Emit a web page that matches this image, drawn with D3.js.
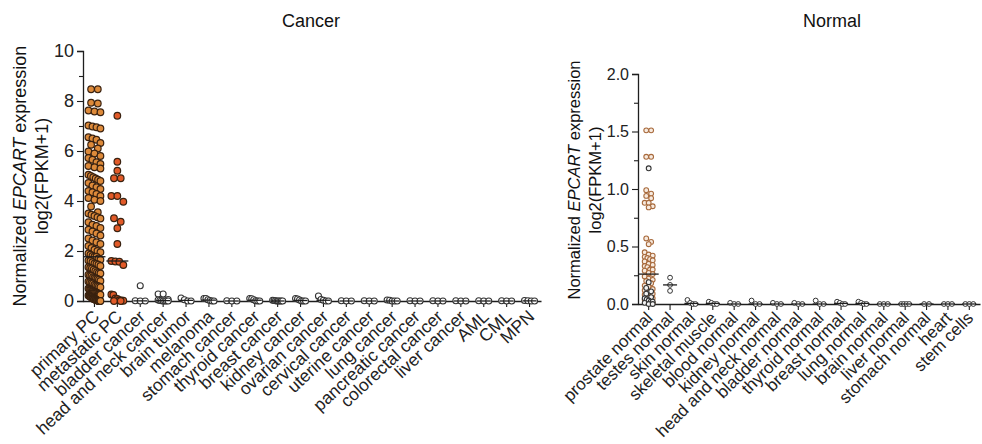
<!DOCTYPE html>
<html>
<head>
<meta charset="utf-8">
<script src="https://cdn.jsdelivr.net/npm/d3@7"></script>
<style>
  html, body { margin: 0; padding: 0; background: #fff; }
  svg { display: block; font-family: "Liberation Sans", Arial, sans-serif; }
</style>
</head>
<body>
<svg id="chart" width="982" height="444"></svg>
<script>
// ---- Cancer panel ----
const cancerCategories = [
  "primary PC", "metastatic PC", "bladder cancer", "head and neck cancer", "brain tumor",
  "melanoma", "stomach cancer", "thyroid cancer", "breast cancer", "kidney cancer",
  "ovarian cancer", "cervical cancer", "uterine cancer", "lung cancer", "pancreatic cancer",
  "colorectal cancer", "liver cancer", "AML", "CML", "MPN"
];
const primaryPC = [
  8.47, 8.47, 7.93, 7.90, 7.62, 7.58, 7.55, 7.02, 6.98, 6.95, 6.90,
  6.55, 6.50, 6.45, 6.32, 6.25, 6.10, 5.98, 5.90, 5.80, 5.72, 5.65,
  5.55, 5.48, 5.40, 5.35, 5.30, 5.05, 5.00, 4.95, 4.90, 4.85, 4.80, 4.72,
  4.62, 4.55, 4.48, 4.40, 4.35, 4.28, 4.20, 4.12, 4.05, 4.00,
  3.78, 3.55, 3.50, 3.45, 3.40, 3.35, 3.30,
  3.15, 3.05, 3.00, 2.92, 2.85, 2.78, 2.70, 2.62,
  2.50, 2.42, 2.35, 2.28, 2.20, 2.12, 2.05, 2.00, 1.95, 1.90, 1.85,
  1.80, 1.77, 1.77, 1.70, 1.65, 1.60, 1.55, 1.50, 1.45, 1.40, 1.35, 1.30, 1.25, 1.20,
  1.15, 1.12, 1.05, 1.00, 0.95, 0.90, 0.85, 0.80, 0.75, 0.70, 0.65, 0.60, 0.55, 0.50, 0.45,
  0.42, 0.40, 0.38, 0.35, 0.32, 0.30, 0.28, 0.25, 0.22, 0.20, 0.18, 0.15, 0.12, 0.10,
  0.08, 0.06, 0.05, 0.04, 0.03, 0.02, 0.01, 0.0, 0.0, 0.0, 0.0,
  1.32, 1.10, 0.92, 0.78, 0.62, 0.48, 0.36, 0.26, 0.16, 0.07,
  1.62, 1.48, 1.02, 0.88, 0.72, 0.58, 0.44, 0.33, 0.21, 0.11
];
const metastaticPC = [
  7.41, 5.57, 5.21, 4.91, 4.91, 4.20, 4.20, 3.97, 3.31, 3.17, 2.91, 2.28,
  1.60, 1.58, 1.57, 1.44, 0.26, 0.24, 0.10, 0.08, 0.03, 0.02, 0.01, 0.0, 0.0
];
const otherCancers = [
  [0.61, 0.01, 0.0, 0.0],
  [0.28, 0.28, 0.06, 0.04, 0.02, 0.01, 0.0, 0.0, 0.0, 0.0],
  [0.12, 0.05, 0.0, 0.0],
  [0.10, 0.10, 0.05, 0.02, 0.0, 0.0],
  [0.01, 0.0, 0.0],
  [0.10, 0.09, 0.05, 0.01, 0.0, 0.0],
  [0.03, 0.02, 0.01, 0.0, 0.0, 0.0, 0.0, 0.0],
  [0.10, 0.08, 0.04, 0.0, 0.0, 0.0],
  [0.20, 0.06, 0.03, 0.0, 0.0],
  [0.01, 0.0, 0.0],
  [0.01, 0.0, 0.0],
  [0.04, 0.03, 0.0, 0.0, 0.0],
  [0.01, 0.0, 0.0],
  [0.01, 0.0, 0.0],
  [0.01, 0.0, 0.0],
  [0.01, 0.0, 0.0],
  [0.01, 0.0, 0.0],
  [0.02, 0.01, 0.0, 0.0]
];
const cancerTicks = [0, 2, 4, 6, 8, 10];

// ---- Normal panel ----
const normalCategories = [
  "prostate normal", "testes normal", "skin normal", "skeletal muscle", "blood normal",
  "kidney normal", "head and neck normal", "bladder normal", "thyroid normal", "breast normal",
  "lung normal", "brain normal", "liver normal", "stomach normal", "heart", "stem cells"
];
const prostateNormal = [
  1.51, 1.51, 1.28, 1.28, 0.99, 0.96, 0.94, 0.92, 0.88, 0.88, 0.85, 0.84,
  0.57, 0.54, 0.52, 0.45, 0.43, 0.42, 0.41, 0.40, 0.39, 0.38, 0.37, 0.35,
  0.34, 0.33, 0.32, 0.30, 0.30, 0.29, 0.27, 0.26, 0.24, 0.22, 0.21, 0.20,
  0.18, 0.16, 0.15, 0.13, 0.12, 0.10, 0.09, 0.08, 0.07, 0.06, 0.05, 0.04,
  0.03, 0.02, 0.01
];
const prostateNormalDark = [1.18, 0.19, 0.14, 0.11, 0.09, 0.06, 0.05, 0.04, 0.03, 0.02, 0.02, 0.01, 0.0, 0.0];
const otherNormals = [
  [0.229, 0.166, 0.114],
  [0.035, 0.01, 0.0, 0.0],
  [0.02, 0.01, 0.0, 0.0],
  [0.01, 0.0, 0.0],
  [0.03, 0.0, 0.0],
  [0.01, 0.0, 0.0],
  [0.01, 0.0, 0.0],
  [0.03, 0.0, 0.0],
  [0.02, 0.01, 0.0, 0.0],
  [0.02, 0.01, 0.0, 0.0],
  [0.0, 0.0, 0.0],
  [0.0, 0.0, 0.0, 0.0],
  [0.0, 0.0],
  [0.0, 0.0, 0.0],
  [0.0, 0.0, 0.0]
];
const normalTicks = [0, 0.5, 1.0, 1.5, 2.0];

const svg = d3.select("#chart");
const ink = "#1e1e1e";

// Row-based scatter layout: points at similar heights are spread side by side.
function spread(values, y, r, maxHalf) {
  const pts = values.map(v => ({ v, py: y(v) })).sort((a, b) => a.py - b.py);
  const rows = [];
  let cur = null;
  for (const p of pts) {
    if (!cur || p.py - cur.start > 2 * r * 0.95) { cur = { start: p.py, items: [] }; rows.push(cur); }
    cur.items.push(p);
  }
  rows.forEach(row => {
    const n = row.items.length;
    const step = n > 1 ? Math.min(2 * r * 1.02, (2 * maxHalf) / (n - 1)) : 0;
    row.items.forEach((p, k) => { p.dx = (k - (n - 1) / 2) * step; });
  });
  return pts;
}

function panel(opts) {
  const g = svg.append("g");
  const x = d3.scaleBand().domain(opts.categories).range([opts.x0, opts.x1]);
  const y = d3.scaleLinear().domain(opts.domain).range([opts.y0, opts.y1]);

  // y axis with labelled major ticks and short minor ticks
  const yAxis = g.append("g").attr("transform", `translate(${opts.x0},0)`)
    .call(d3.axisLeft(y).tickValues(opts.ticks).tickFormat(opts.fmt).tickSize(6).tickPadding(3));
  yAxis.selectAll("text").attr("font-size", opts.tickFont).attr("fill", "#222");
  g.append("g").attr("transform", `translate(${opts.x0},0)`)
    .call(d3.axisLeft(y).tickValues(opts.minor).tickFormat("").tickSize(4))
    .call(s => s.select(".domain").remove());

  // x axis
  g.append("g").attr("transform", `translate(0,${opts.y0})`)
    .call(d3.axisBottom(x).tickSize(6).tickSizeOuter(0).tickFormat(""));
  g.selectAll(".domain").attr("stroke", ink).attr("stroke-width", 1.3);
  g.selectAll(".tick line").attr("stroke", ink).attr("stroke-width", 1.1);

  // rotated category labels
  g.append("g").selectAll("text").data(opts.categories).join("text")
    .attr("transform", d => `translate(${x(d) + x.bandwidth() / 2 + opts.labDx},${opts.y0 + opts.labDy}) rotate(${opts.labAngle})`)
    .attr("text-anchor", "end")
    .attr("font-size", opts.labFont)
    .attr("fill", "#222")
    .text(d => d);

  // points
  opts.groups.forEach(grp => {
    const cx = x(grp.cat) + x.bandwidth() / 2;
    const pts = spread(grp.values, y, grp.r, grp.maxHalf);
    g.append("g").selectAll("circle").data(pts).join("circle")
      .attr("cx", d => cx + d.dx)
      .attr("cy", d => d.py)
      .attr("r", grp.r)
      .attr("fill", grp.fill)
      .attr("stroke", grp.stroke)
      .attr("stroke-width", grp.sw);
  });

  // median lines
  opts.medians.forEach(m => {
    const cx = x(m.cat) + x.bandwidth() / 2;
    const my = y(d3.median(m.values));
    g.append("line")
      .attr("x1", cx - m.half).attr("x2", cx + m.half)
      .attr("y1", my).attr("y2", my)
      .attr("stroke", ink).attr("stroke-width", 1.3);
  });

  // title
  g.append("text").attr("x", opts.titleX).attr("y", opts.titleY)
    .attr("text-anchor", "middle").attr("font-size", 18).attr("fill", "#111").text(opts.title);

  // y axis title
  const yt = g.append("text")
    .attr("transform", `translate(${opts.ytX},${opts.ytY}) rotate(-90)`)
    .attr("text-anchor", "middle").attr("font-size", opts.ytFont).attr("fill", "#111");
  yt.append("tspan").text("Normalized ");
  yt.append("tspan").attr("font-style", "italic").text("EPCART");
  yt.append("tspan").text(" expression");
  g.append("text")
    .attr("transform", `translate(${opts.ytX + opts.ytGap},${opts.ytY}) rotate(-90)`)
    .attr("text-anchor", "middle").attr("font-size", opts.ytFont).attr("fill", "#111")
    .text("log2(FPKM+1)");
}

// Cancer panel
const cancerGroups = [
  { cat: cancerCategories[0], values: primaryPC, r: 3.3, maxHalf: 6, fill: "#dd8a3a", stroke: "#3a2210", sw: 1.2 },
  { cat: cancerCategories[1], values: metastaticPC, r: 3.3, maxHalf: 6, fill: "#e25a28", stroke: "#3a2210", sw: 1.2 }
];
otherCancers.forEach((vals, i) => cancerGroups.push(
  { cat: cancerCategories[i + 2], values: vals, r: 3.0, maxHalf: 5, fill: "#fff", stroke: "#333", sw: 1.1 }));
panel({
  categories: cancerCategories, x0: 83, x1: 541, y0: 301, y1: 51, domain: [0, 10],
  ticks: cancerTicks, minor: [1, 3, 5, 7, 9], fmt: d3.format("d"), tickFont: 18,
  labFont: 17.5, labAngle: -43, labDx: 6, labDy: 17,
  groups: cancerGroups,
  medians: [
    { cat: cancerCategories[0], values: primaryPC, half: 11 },
    { cat: cancerCategories[1], values: metastaticPC, half: 11 }
  ].concat(otherCancers.map((v, i) => ({ cat: cancerCategories[i + 2], values: v, half: 7 }))),
  title: "Cancer", titleX: 311, titleY: 27,
  ytX: 26, ytY: 176, ytGap: 22, ytFont: 18
});

// Normal panel
const normalGroups = [
  { cat: normalCategories[0], values: prostateNormal, r: 2.4, maxHalf: 4, fill: "#f7eadf", stroke: "#a86a3c", sw: 1.1 },
  { cat: normalCategories[0], values: prostateNormalDark, r: 2.4, maxHalf: 4, fill: "#f4f4f4", stroke: "#333", sw: 1.1 }
];
otherNormals.forEach((vals, i) => normalGroups.push(
  { cat: normalCategories[i + 1], values: vals, r: 2.4, maxHalf: 4, fill: "#fff", stroke: "#333", sw: 1.0 }));
panel({
  categories: normalCategories, x0: 638, x1: 980, y0: 304, y1: 74, domain: [0, 2],
  ticks: normalTicks, minor: [0.25, 0.75, 1.25, 1.75], fmt: d3.format(".1f"), tickFont: 16,
  labFont: 17, labAngle: -45, labDx: 5, labDy: 15,
  groups: normalGroups,
  medians: [
    { cat: normalCategories[0], values: prostateNormal.concat(prostateNormalDark), half: 10 }
  ].concat(otherNormals.map((v, i) => ({ cat: normalCategories[i + 1], values: v, half: 7 }))),
  title: "Normal", titleX: 832, titleY: 27,
  ytX: 580, ytY: 180, ytGap: 21, ytFont: 16.5
});
</script>
</body>
</html>
